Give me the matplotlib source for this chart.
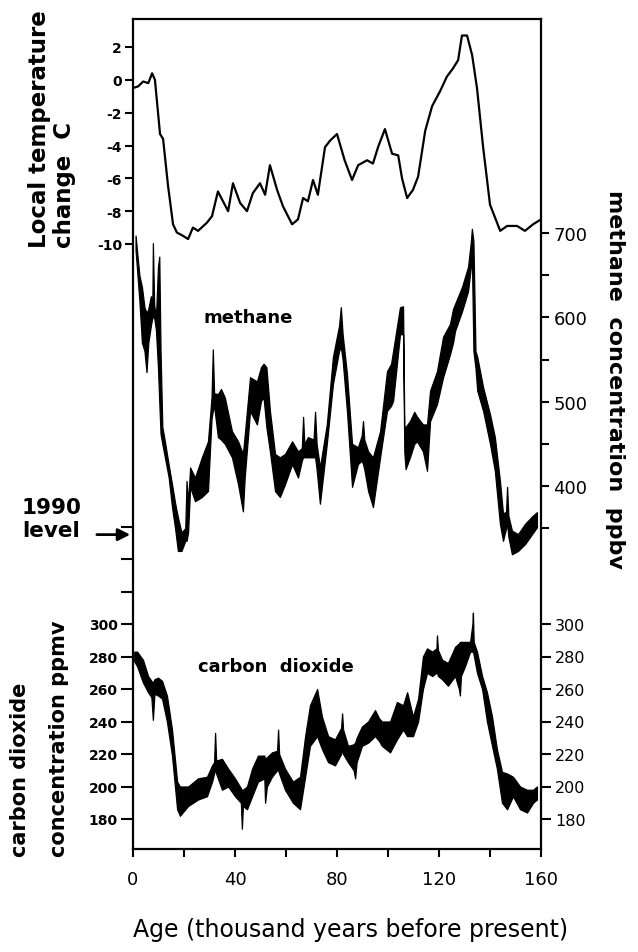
import matplotlib
matplotlib.use("Agg")
import matplotlib.pyplot as plt

# ---------------- data ----------------
temp_age = [0, 2, 4, 6, 7.5, 8.6, 10.6, 11.8, 13.7, 15.7, 17.2, 19.6, 21.6, 23.5, 25.5, 29, 31,
            33.3, 35.3, 37.3, 39.2, 42, 44.7, 47, 49.8, 51.8, 53.7, 56.5, 58.8, 62.4, 64.7, 66.7,
            68.6, 70.6, 72.5, 75.3, 77.3, 80, 83, 85.9, 88.3, 91.8, 94.1, 96.1, 98.8, 101.6, 104,
            105.5, 107.5, 109.8, 111.8, 114.6, 117.3, 120.4, 123.1, 125.5, 127.5, 129, 131, 133,
            134.9, 137.3, 140, 142, 144, 146.7, 150.6, 153.7, 156.9, 160]
temp_val = [-0.5, -0.4, -0.1, -0.2, 0.4, 0.0, -3.3, -3.6, -6.4, -8.8, -9.3, -9.5, -9.7, -9.0,
            -9.2, -8.7, -8.3, -6.8, -7.4, -8.0, -6.3, -7.5, -8.0, -6.9, -6.3, -7.0, -5.2, -6.7,
            -7.7, -8.8, -8.5, -7.2, -7.4, -6.1, -7.0, -4.1, -3.7, -3.3, -4.9, -6.1, -5.2, -4.9,
            -5.1, -4.1, -3.0, -4.5, -4.6, -6.0, -7.2, -6.7, -5.9, -3.1, -1.6, -0.7, 0.2, 0.7,
            1.2, 2.7, 2.7, 1.5, -0.5, -4.1, -7.6, -8.4, -9.2, -8.9, -8.9, -9.2, -8.8, -8.5]

ch4_age = [1.0, 2.5, 3.5, 4.5, 5.3, 6.0, 7.0, 7.6, 7.8, 8.3, 9.0, 9.8, 10.3, 10.8, 11.5, 12.5,
           14, 15.3, 16.5, 17.6, 19, 20.5, 21, 21.6, 22.4, 24.3, 26, 27, 29.4, 30.8, 31.3, 31.8,
           33.3, 34.5, 36, 38.8, 41.2, 43.1, 43.8, 45.9, 48.6, 50.2, 51.2, 52.3, 53.7, 55.7,
           57.6, 59.6, 62.4, 64.7, 66.2, 66.7, 67.2, 68.6, 70.8, 71.4, 72, 73.3, 76, 78.4, 80.8,
           81.5, 82.2, 83.9, 85.9, 88.2, 89.7, 90.2, 90.7, 92.2, 94.1, 96.9, 99.6, 101.2, 102,
           104.7, 105.9, 106.4, 106.9, 108.6, 110.3, 111.4, 113.7, 115.3, 116.5, 119.2, 121.6,
           124.3, 125.5, 126.3, 129, 131.4, 132.5, 132.9, 133.5, 134.3, 135, 137.3, 140, 141.9,
           143.9, 145.1, 146.3, 146.7, 147.2, 148.6, 151, 153.7, 156.5, 158.4]
ch4_low = [680, 620, 570, 560, 535, 570, 590, 600, 600, 600, 585, 540, 500, 462, 450, 434,
           410, 375, 350, 323, 323, 335, 335, 345, 399, 382, 385, 387, 394, 480, 489, 495,
           458, 455, 450, 434, 402, 370, 410, 489, 473, 501, 505, 470, 441, 394,
           387, 402, 426, 410, 430, 434, 434, 434, 434, 434, 420, 379, 450, 521, 560,
           565, 550, 489, 399, 426, 430, 426, 420, 394, 375, 434, 489, 495, 501,
           580, 580, 440, 420, 434, 450, 453, 441, 418, 477, 497, 529,
           556, 570, 584, 607, 631, 660, 672, 560, 540, 513, 489, 450, 418,
           355, 335, 350, 355, 340, 319, 323, 331, 343, 351]
ch4_high = [697, 650, 636, 612, 605, 610, 625, 622, 688, 615, 600, 660, 672, 560, 470, 453,
            425, 402, 380, 363, 345, 350, 406, 380, 422, 410, 425, 434, 453, 505, 562, 510,
            509, 515, 505, 465, 453, 438, 460, 529, 524, 541, 545, 541, 489, 438,
            434, 438, 453, 441, 445, 482, 450, 458, 455, 488, 450, 422, 473, 553, 590,
            612, 580, 533, 450, 446, 460, 477, 455, 441, 434, 465, 536, 545, 560,
            612, 613, 470, 470, 477, 488, 482, 473, 473, 513, 536, 577,
            592, 610, 616, 636, 660, 690, 705, 690, 560, 553, 517, 485, 458,
            406, 367, 370, 399, 365, 347, 343, 355, 364, 369]

co2_age = [0.5, 1.6, 3.9, 5.9, 7.2, 7.8, 8.4, 9.8, 11.4, 13.3, 15.3, 17.3, 18.4, 21.6, 25.5, 29,
           31, 31.8, 32.2, 32.6, 34.9, 37.3, 40, 42.3, 42.7, 43.1, 44.7, 46.7, 49, 51.5, 51.8,
           52.5, 54.5, 56.5, 56.9, 57.3, 59.6, 62.7, 65.5, 67.5, 69.4, 72.2, 74.1, 76.5, 79.2,
           81.6, 82, 82.4, 84.3, 86.5, 87.1, 87.7, 89.8, 92.2, 94.9, 96.5, 97.6, 100.8, 103.5,
           105.9, 107.5, 109.8, 111.8, 113.7, 115.3, 117.3, 119, 119.2, 119.6, 121.2, 123.5,
           126.3, 127.8, 128.2, 128.6, 130.2, 132.2, 133.1, 133.3, 133.6, 134.9, 136.9, 138.8,
           140.8, 142.7, 144.7, 146.7, 149, 151.8, 154.5, 156.9, 158.4]
co2_low = [277, 274, 264, 258, 255, 241, 257, 256, 254, 240, 219, 186, 182, 188, 192, 194,
           203, 208, 211, 208, 198, 200, 194, 190, 174, 188, 186, 194, 203, 205, 190,
           200, 206, 210, 210, 208, 198, 190, 186, 206, 225, 231, 223, 215, 213,
           220, 223, 220, 215, 210, 205, 215, 225, 227, 231, 228, 225, 221, 229,
           235, 231, 231, 240, 260, 270, 268, 270, 270, 268, 266, 262,
           268, 260, 256, 268, 274, 283, 283, 283, 281, 270, 260, 240,
           225, 211, 190, 186, 194, 186, 184, 190, 192]
co2_high = [283, 283, 278, 268, 265, 264, 266, 267, 265, 256, 235, 203, 200, 200, 205, 206,
            213, 215, 233, 216, 217, 211, 205, 199, 198, 198, 200, 211, 219, 219, 217,
            218, 221, 222, 235, 220, 211, 203, 206, 231, 250, 260, 243, 231, 229,
            236, 245, 235, 225, 226, 227, 230, 237, 240, 247, 242, 240, 240, 252,
            250, 258, 243, 254, 280, 285, 283, 285, 293, 284, 278, 276,
            286, 288, 289, 289, 289, 289, 300, 307, 289, 283, 268, 258,
            243, 223, 209, 208, 206, 200, 198, 198, 200]

co2_1990 = 355

age_ticks = [0, 20, 40, 60, 80, 100, 120, 140, 160]
age_labels = ["0", "", "40", "", "80", "", "120", "", "160"]
temp_ticks = [2, 0, -2, -4, -6, -8, -10]
temp_labels = ["2", "0", "-2", "-4", "-6", "-8", "-10"]
ch4_ticks = [400, 500, 600, 700]
ch4_minor = [350, 450, 550, 650]
co2_ticks = [180, 200, 220, 240, 260, 280, 300]
co2_minor = [320, 340, 360]

# ---------------- layout ----------------
W, H = 638, 953
FL, FR, FT, FB = 133, 541, 20, 850
fig = plt.figure(figsize=(W / 100, H / 100), dpi=100)
pos = [FL / W, 1 - FB / H, (FR - FL) / W, (FB - FT) / H]


def lims(v1, p1, v2, p2):
    s = (v2 - v1) / (p2 - p1)
    return v1 + (FB - p1) * s, v1 + (FT - p1) * s


def overlay(ylim):
    a = fig.add_axes(pos)
    a.patch.set_visible(False)
    for sp in a.spines.values():
        sp.set_visible(False)
    a.set_xlim(0, 160)
    a.set_ylim(*ylim)
    a.set_xticks([])
    return a


ax = fig.add_axes(pos)
ax.set_xlim(0, 160)
ax.set_ylim(0, 1)
ax.set_yticks([])
for sp in ax.spines.values():
    sp.set_linewidth(1.6)
ax.set_xticks(age_ticks)
ax.set_xticklabels(age_labels)
ax.tick_params(axis="x", direction="out", length=6, width=1.5, labelsize=13, pad=9)

# temperature
ax_t = overlay(lims(2, 48, -10, 245))
ax_t.plot(temp_age, temp_val, color="black", lw=1.6)
ax_t.set_yticks(temp_ticks)
ax_t.set_yticklabels(temp_labels, fontweight="bold")
ax_t.tick_params(axis="y", direction="out", length=6, width=1.5, labelsize=10, pad=2)

# methane
ax_m = overlay(lims(700, 234, 400, 487))
ax_m.fill_between(ch4_age, ch4_low, ch4_high, color="black", lw=0.9)
ax_m.yaxis.tick_right()
ax_m.set_yticks(ch4_ticks)
ax_m.set_yticks(ch4_minor, minor=True)
ax_m.tick_params(axis="y", which="both", direction="out", length=6, width=1.5,
                 labelsize=13, pad=3)

# carbon dioxide
ax_c = overlay(lims(300, 625, 180, 820))
ax_c.fill_between(co2_age, co2_low, co2_high, color="black", lw=0.9)
ax_c.set_yticks(co2_ticks)
ax_c.set_yticks(co2_minor, minor=True)
ax_c.set_yticklabels([str(v) for v in co2_ticks], fontweight="bold")
ax_c.tick_params(axis="y", which="both", direction="out", length=9, width=1.5,
                 labelsize=10, pad=2)

ax_c2 = overlay(lims(300, 625, 180, 820))
ax_c2.yaxis.tick_right()
ax_c2.set_yticks(co2_ticks)
ax_c2.tick_params(axis="y", direction="out", length=7, width=1.5, labelsize=11.5, pad=3)

# 1990 level arrow
ax_c.annotate("", xy=(0, co2_1990), xytext=(-28, 0), textcoords="offset points",
              arrowprops=dict(arrowstyle="-|>", color="black", lw=2, mutation_scale=18),
              annotation_clip=False)


def ftext(x, y, s, **kw):
    fig.text(x / W, 1 - y / H, s, **kw)


ftext(40, 248, "Local temperature", rotation=90, rotation_mode="anchor", ha="left",
      va="center", fontsize=16.5, fontweight="bold")
ftext(64, 248, "change  C", rotation=90, rotation_mode="anchor", ha="left",
      va="center", fontsize=16.5, fontweight="bold")
ftext(615, 190, "methane  concentration  ppbv", rotation=-90, rotation_mode="anchor",
      ha="left", va="center", fontsize=16, fontweight="bold")
ftext(20, 857, "carbon dioxide", rotation=90, rotation_mode="anchor", ha="left",
      va="center", fontsize=15, fontweight="bold")
ftext(59, 857, "concentration ppmv", rotation=90, rotation_mode="anchor", ha="left",
      va="center", fontsize=15, fontweight="bold")
ftext(22, 508, "1990", ha="left", va="center", fontsize=15.5, fontweight="bold")
ftext(22, 531, "level", ha="left", va="center", fontsize=15.5, fontweight="bold")
ftext(248, 318, "methane", ha="center", va="center", fontsize=13, fontweight="bold")
ftext(276, 667, "carbon  dioxide", ha="center", va="center", fontsize=13, fontweight="bold")
ftext(351, 930, "Age (thousand years before present)", ha="center", va="center",
      fontsize=17)

fig.savefig("out.png", dpi=100)
